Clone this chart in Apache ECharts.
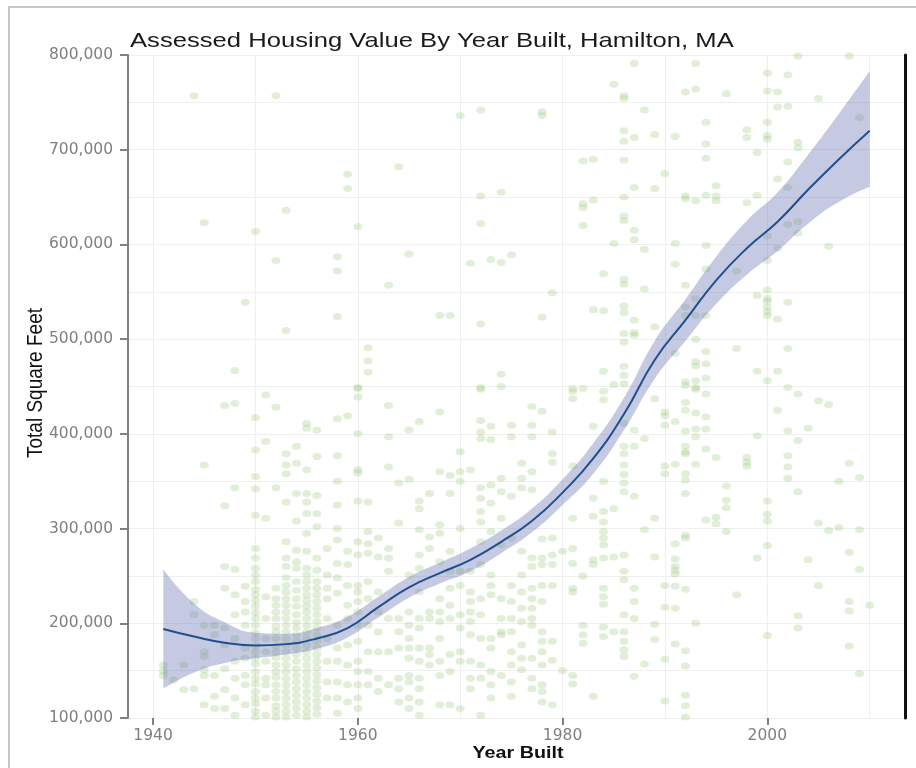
<!DOCTYPE html>
<html>
<head>
<meta charset="utf-8">
<title>Assessed Housing Value By Year Built, Hamilton, MA</title>
<script src="https://cdn.jsdelivr.net/npm/echarts@6/dist/echarts.min.js"></script>
<style>
  html, body { margin: 0; padding: 0; background: #fff; }
  #chart { width: 916px; height: 768px; }
</style>
</head>
<body>
<div id="chart"></div>
<script>
// assessed values in thousands of dollars, one row per year built
var homes1940s = [
  [1941, [156, 150, 145]],
  [1942, [140]],
  [1943, [156, 130]],
  [1944, [757, 223, 209, 131]],
  [1945, [623, 367, 198, 170, 165, 151, 145, 114]],
  [1946, [198, 188, 145, 123, 110]],
  [1947, [430, 324, 260, 237, 195, 177, 152, 130, 110]],
  [1948, [467, 432, 343, 257, 230, 209, 184, 160, 142, 121, 103]],
  [1949, [539, 239, 223, 212, 198, 174, 163, 145, 135, 114]]
]
var homes1950s = [
  [1950, [614, 417, 383, 355, 342, 314, 279, 269, 258, 251, 244, 236, 230, 224, 218, 211, 205, 198, 190, 184, 176, 170, 163, 157, 149, 142, 136, 128, 121, 115, 107, 101]],
  [1951, [441, 392, 311, 228, 205, 184, 170, 160, 142, 135, 121, 103]],
  [1952, [757, 583, 428, 343, 237, 226, 219, 212, 205, 197, 191, 184, 176, 170, 164, 156, 149, 143, 135, 128, 121, 113, 107, 101]],
  [1953, [636, 509, 379, 367, 358, 328, 286, 269, 260, 248, 240, 233, 226, 219, 212, 205, 198, 191, 184, 177, 170, 163, 156, 149, 142, 135, 128, 121, 114, 107, 101]],
  [1954, [387, 369, 337, 308, 277, 265, 258, 244, 235, 226, 218, 209, 201, 195, 188, 181, 174, 167, 160, 152, 145, 138, 131, 124, 117, 110, 103]],
  [1955, [411, 406, 362, 337, 328, 316, 295, 276, 258, 251, 244, 237, 230, 224, 218, 212, 205, 198, 191, 184, 177, 170, 163, 156, 149, 142, 135, 128, 121, 114, 107, 101]],
  [1956, [404, 376, 335, 316, 302, 269, 256, 244, 237, 230, 223, 216, 209, 202, 195, 188, 181, 174, 167, 160, 153, 146, 139, 132, 125, 118, 111, 104]],
  [1957, [279, 251, 237, 226, 205, 184, 160, 138, 121]],
  [1958, [587, 572, 524, 416, 377, 350, 325, 300, 288, 263, 248, 232, 198, 174, 160, 138, 121, 105]],
  [1959, [674, 659, 419, 276, 262, 240, 219, 205, 177, 156, 135, 117]]
]
var homes1960s = [
  [1960, [619, 449, 448, 439, 400, 362, 359, 329, 286, 272, 240, 233, 223, 212, 198, 181, 160, 149, 135, 121, 110]],
  [1961, [491, 477, 465, 328, 297, 284, 274, 244, 226, 198, 170, 149, 135]],
  [1962, [290, 270, 233, 212, 191, 170, 142, 128]],
  [1963, [557, 430, 397, 365, 279, 269, 255, 205, 170, 135]],
  [1964, [682, 348, 306, 205, 191, 174, 142, 131, 117]],
  [1965, [590, 404, 352, 251, 212, 198, 184, 174, 163, 145, 138, 121, 110]],
  [1966, [413, 329, 321, 299, 272, 258, 233, 205, 195, 174, 160, 142, 131, 117, 103]],
  [1967, [337, 291, 279, 212, 205, 174, 167, 156]],
  [1968, [525, 423, 360, 304, 295, 265, 226, 212, 202, 184, 160, 145, 114]],
  [1969, [525, 356, 337, 276, 255, 237, 219, 205, 167, 149, 114]]
]
var homes1970s = [
  [1970, [736, 381, 360, 350, 300, 255, 240, 209, 195, 170, 160, 110]],
  [1971, [580, 362, 255, 233, 223, 212, 202, 188, 160, 142, 131]],
  [1972, [742, 651, 622, 516, 449, 447, 414, 402, 395, 343, 332, 318, 307, 286, 262, 226, 209, 184, 156, 142, 103]],
  [1973, [584, 408, 394, 346, 327, 297, 251, 240, 230, 184, 174, 149, 135, 121]],
  [1974, [655, 581, 463, 450, 353, 339, 311, 283, 226, 205, 191, 188, 145]],
  [1975, [589, 409, 397, 334, 290, 240, 223, 205, 191, 170, 156, 138, 123]],
  [1976, [369, 353, 343, 276, 251, 233, 216, 202, 177, 163, 151]],
  [1977, [429, 409, 397, 360, 341, 269, 260, 237, 226, 216, 205, 198, 163, 142, 131]],
  [1978, [740, 736, 523, 424, 289, 269, 262, 240, 223, 191, 181, 170, 156, 135, 128, 117]],
  [1979, [549, 402, 379, 370, 290, 272, 262, 240, 181, 161, 114]]
]
var homes1980s = [
  [1980, [276, 150]],
  [1981, [448, 445, 437, 366, 311, 279, 263, 237, 233, 145, 136]],
  [1982, [688, 643, 639, 620, 448, 250, 198, 188, 179]],
  [1983, [690, 647, 531, 408, 332, 313, 267, 262, 123]],
  [1984, [569, 530, 466, 445, 436, 350, 318, 307, 297, 290, 283, 269, 237, 228, 220, 196, 186]],
  [1985, [769, 601, 452, 321, 270, 191]],
  [1986, [757, 754, 720, 709, 689, 650, 630, 625, 563, 558, 535, 528, 506, 497, 471, 462, 453, 411, 387, 379, 367, 357, 348, 339, 272, 255, 246, 209, 191, 181, 172, 165]],
  [1987, [791, 713, 660, 615, 605, 520, 507, 504, 404, 387, 334, 237, 223, 205, 144]],
  [1988, [742, 595, 553, 395, 299, 157]],
  [1989, [716, 659, 513, 437, 311, 270, 199, 183]]
]
var homes1990s = [
  [1990, [675, 423, 419, 409, 366, 358, 240, 217, 162, 118]],
  [1991, [714, 601, 579, 485, 413, 368, 284, 268, 260, 256, 252, 239, 216, 178]],
  [1992, [761, 651, 648, 557, 534, 525, 455, 451, 433, 425, 403, 387, 381, 379, 358, 351, 337, 293, 290, 236, 171, 155, 124, 113, 101]],
  [1993, [791, 764, 646, 543, 525, 500, 476, 472, 456, 449, 447, 422, 405, 397, 368, 200]],
  [1994, [729, 706, 691, 652, 599, 574, 525, 487, 474, 459, 442, 418, 405, 384, 309]],
  [1995, [662, 651, 646, 375, 312, 305]],
  [1996, [759, 345, 330, 322, 297]],
  [1997, [572, 490, 230]],
  [1998, [721, 713, 644, 375, 370, 366]],
  [1999, [697, 652, 546, 466, 398, 269]]
]
var homes2000s = [
  [2000, [781, 762, 729, 715, 711, 609, 583, 552, 543, 540, 534, 529, 525, 456, 329, 315, 308, 282, 187]],
  [2001, [761, 745, 669, 596, 521, 466, 425]],
  [2002, [779, 746, 687, 660, 621, 539, 490, 449, 403, 377, 365, 353]],
  [2003, [799, 708, 702, 624, 612, 442, 393, 339, 208, 195]],
  [2004, [406, 267]],
  [2005, [754, 435, 306, 240]],
  [2006, [598, 431, 298]],
  [2007, [350, 301]],
  [2008, [799, 369, 275, 223, 213, 176]],
  [2009, [734, 354, 299, 257, 147]],
  [2010, [219]]
]

// smoothed trend and its confidence band (thousands), every 3 years
var fitYears = [1941, 1944, 1947, 1950, 1953, 1956, 1959, 1962, 1965, 1968, 1971, 1974, 1977, 1980, 1983, 1986, 1989, 1992, 1995, 1998, 2001, 2004, 2007, 2010]
var fitValues = [194, 186, 179.5, 176.5, 178, 184, 195, 217, 238, 253, 267, 286, 308, 338, 374, 421, 478, 520, 562, 596, 624, 658, 690, 720]
var fitLower = [131, 148, 158, 163, 167, 173, 185, 206, 227, 242, 255, 274, 296, 325, 358, 404, 458, 498, 537, 568, 593, 622, 645, 661]
var fitUpper = [257, 221, 201, 190, 189, 195, 207, 228, 249, 264, 279, 298, 321, 352, 390, 438, 498, 542, 587, 625, 655, 695, 738, 783]

var yearTicks = [1940, 1960, 1980, 2000]
var yearMin = 1937.55
var yearMax = 2013.45

function flatten(rows) {
  var out = []
  rows.forEach(function (row) {
    row[1].forEach(function (v) {
      out.push([row[0], v * 1000])
    })
  })
  return out
}

var points = [].concat(
  flatten(homes1940s), flatten(homes1950s), flatten(homes1960s),
  flatten(homes1970s), flatten(homes1980s), flatten(homes1990s), flatten(homes2000s)
)

// band rows are [value, year] so that the stack runs on the value dimension
var bandBase = fitYears.map(function (y, i) { return [fitLower[i] * 1000, y] })
var bandWidth = fitYears.map(function (y, i) { return [(fitUpper[i] - fitLower[i]) * 1000, y] })

var gridColor = '#efefef'
var axisGray = '#808080'
var labelFont = 'DejaVu Sans'

var myChart = echarts.init(document.getElementById('chart'))
var option = {
  animation: false,
  backgroundColor: '#fff',
  grid: { left: 128, right: 11, top: 55, bottom: 50, containLabel: false },
  xAxis: [
    {
      type: 'value',
      min: yearMin,
      max: yearMax,
      minInterval: 20,
      maxInterval: 20,
      axisLine: { show: false },
      axisTick: { show: true, length: 7, customValues: yearTicks, lineStyle: { color: axisGray, width: 2 } },
      axisLabel: {
        customValues: yearTicks,
        color: '#7f7f7f',
        fontFamily: labelFont,
        fontSize: 15.5,
        margin: 10,
        formatter: function (v) { return String(v) }
      },
      splitLine: { show: false }
    },
    {
      // only used for the vertical grid lines every 10 years
      type: 'value',
      min: yearMin,
      max: yearMax,
      minInterval: 10,
      maxInterval: 10,
      axisLine: { show: false },
      axisTick: { show: false },
      axisLabel: { show: false },
      splitLine: { show: true, lineStyle: { color: gridColor, width: 1 } }
    }
  ],
  yAxis: [
    {
      type: 'value',
      min: 100000,
      max: 800000,
      interval: 100000,
      axisLine: { show: true, lineStyle: { color: axisGray, width: 2 } },
      axisTick: { show: true, length: 8, lineStyle: { color: axisGray, width: 2 } },
      axisLabel: {
        color: '#7f7f7f',
        fontFamily: labelFont,
        fontSize: 15.5,
        margin: 15,
        formatter: function (v) { return v.toLocaleString('en-US') }
      },
      splitLine: { show: true, lineStyle: { color: gridColor, width: 1 } },
      minorTick: { show: false, splitNumber: 2 },
      minorSplitLine: { show: true, lineStyle: { color: gridColor, width: 1 } }
    },
    {
      type: 'value',
      position: 'right',
      min: 100000,
      max: 800000,
      interval: 100000,
      axisLine: { show: true, lineStyle: { color: '#111', width: 3 } },
      axisTick: { show: false },
      axisLabel: { show: false },
      splitLine: { show: false }
    }
  ],
  series: [
    {
      name: 'homes',
      type: 'scatter',
      data: points,
      symbol: 'circle',
      symbolSize: [9, 7],
      itemStyle: { color: 'rgba(145,195,105,0.33)' },
      silent: true,
      z: 1
    },
    {
      name: 'lower',
      type: 'line',
      stack: 'ci',
      data: bandBase,
      encode: { x: 1, y: 0 },
      smooth: 0.5,
      symbol: 'none',
      lineStyle: { opacity: 0 },
      silent: true,
      z: 2
    },
    {
      name: 'band',
      type: 'line',
      stack: 'ci',
      data: bandWidth,
      encode: { x: 1, y: 0 },
      smooth: 0.5,
      symbol: 'none',
      lineStyle: { opacity: 0 },
      areaStyle: { color: 'rgba(88,103,172,0.35)', opacity: 1 },
      silent: true,
      z: 2
    },
    {
      name: 'fit',
      type: 'line',
      data: fitYears.map(function (y, i) { return [y, fitValues[i] * 1000] }),
      smooth: 0.5,
      symbol: 'none',
      lineStyle: { color: '#1f4f8f', width: 2 },
      silent: true,
      z: 3
    }
  ],
  graphic: [
    {
      type: 'rect',
      silent: true,
      z: -10,
      shape: { x: 9, y: 7, width: 940, height: 800 },
      style: { fill: 'none', stroke: '#c6c6c6', lineWidth: 2 }
    },
    {
      type: 'text',
      x: 130,
      y: 41,
      scaleX: 1.22,
      style: {
        text: 'Assessed Housing Value By Year Built, Hamilton, MA',
        font: '21px "Liberation Sans"',
        fill: '#1a1a1a',
        verticalAlign: 'middle'
      }
    },
    {
      type: 'text',
      x: 36,
      y: 383,
      rotation: Math.PI / 2,
      scaleY: 1.15,
      style: {
        text: 'Total Square Feet',
        font: '19px "Liberation Sans"',
        fill: '#111',
        align: 'center',
        verticalAlign: 'middle'
      }
    },
    {
      type: 'text',
      x: 518,
      y: 753,
      scaleX: 1.16,
      style: {
        text: 'Year Built',
        font: 'bold 17px "Liberation Sans"',
        fill: '#111',
        align: 'center',
        verticalAlign: 'middle'
      }
    }
  ]
}
myChart.setOption(option)
</script>
</body>
</html>
